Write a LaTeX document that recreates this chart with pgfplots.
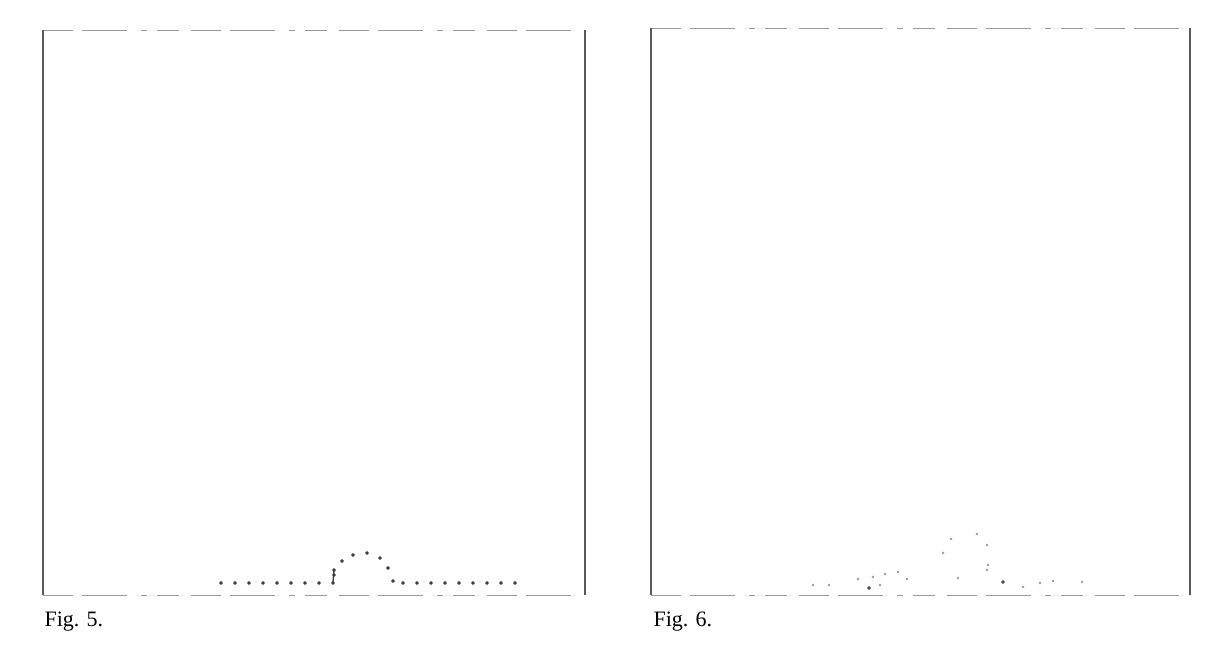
\documentclass[border=0pt]{standalone}
\usepackage{pgfplots}
\pgfplotsset{compat=1.18}
\usepackage{fontspec}
\setmainfont{Liberation Serif}
\begin{document}
\begin{tikzpicture}
\path[use as bounding box] (0,0) rectangle (1208pt,651pt);
\pgfplotsset{
  scanframe/.style={
    scale only axis, ticks=none,
    axis lines=box, separate axis lines,
    x axis line style={black!40, line width=0.9pt, dash pattern=on 30pt off 9pt on 45pt off 14pt on 6pt off 10pt on 22pt off 12pt},
    y axis line style={black!65, line width=1.1pt},
    clip=false,
  }
}
% Fig. 5
\begin{axis}[scanframe, at={(43pt,56pt)}, anchor=south west,
  width=542pt, height=565pt, xmin=43, xmax=585, ymin=56, ymax=621]
\addplot[only marks, mark=*, mark size=1.7pt, black!75] coordinates {
 (221,68) (235,68) (249,68) (263,68) (277,68) (291,68) (305,68) (319,68) (333,68)
 (334,76) (334,81) (342,90) (353,96) (367,98) (380,93) (388,83) (393,70)
 (403,68) (417,68) (431,68) (445,68) (459,68) (473,68) (487,68) (501,68) (515,68)
};
\addplot[black!75, line width=1.4pt] coordinates {(333,68) (334,81)};
\end{axis}
% Fig. 6
\begin{axis}[scanframe, at={(651pt,56pt)}, anchor=south west,
  width=539pt, height=567pt, xmin=651, xmax=1190, ymin=56, ymax=623,
  y axis line style={black!65, line width=1.5pt}]
\addplot[only marks, mark=*, mark size=1.2pt, black!40] coordinates {
 (813,66) (829,66) (858,72) (873,74) (880,66) (885,77) (898,79) (907,72)
 (943,98) (951,112) (958,73) (977,117) (987,106) (988,86) (987,81)
 (1023,64) (1040,68) (1053,70) (1082,69)
};
\addplot[only marks, mark=*, mark size=1.7pt, black!70] coordinates {(869,63) (1003,69)};
\end{axis}
\node[anchor=base west, font=\fontsize{22}{25}\selectfont] at (41pt,24pt) {Fig. 5.};
\node[anchor=base west, font=\fontsize{22}{25}\selectfont] at (650pt,24pt) {Fig. 6.};
\end{tikzpicture}
\end{document}
